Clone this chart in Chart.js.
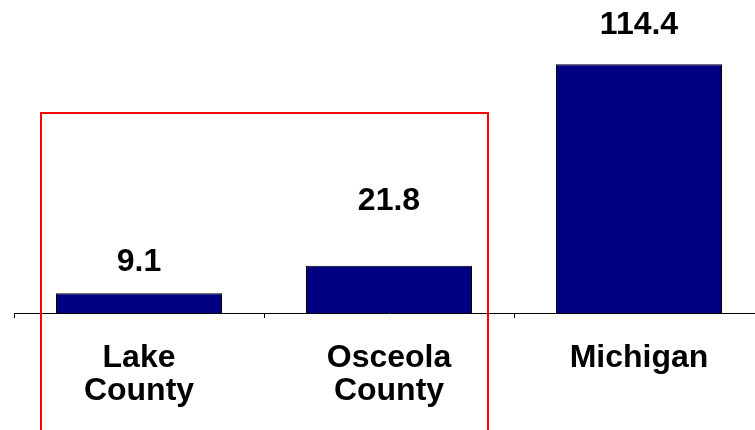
<!DOCTYPE html>
<html>
<head>
<meta charset="utf-8">
<script src="https://cdn.jsdelivr.net/npm/chart.js@4/dist/chart.umd.min.js"></script>
<style>
    html, body { margin: 0; padding: 0; background: #fff; overflow: hidden; }
    #wrap { width: 755px; height: 430px; overflow: hidden; position: relative; }
    #chart { position: absolute; left: 0; top: 0; }
</style>
</head>
<body>
<div id="wrap"><canvas id="chart" width="775" height="433"></canvas></div>
<script>
// ==================== DỮ LIỆU ====================
const categories = [['Lake', 'County'], ['Osceola', 'County'], ['Michigan']];
const values = [9.1, 21.8, 114.4];
const valueLabels = ['9.1', '21.8', '114.4'];

// khoảng cách (px) từ đỉnh cột tới tâm nhãn giá trị
const labelGaps = [31, 65, 39];

// ==================== PLUGIN ====================
const valueLabelPlugin = {
    id: 'valueLabels',
    afterDatasetsDraw(chart) {
        const ctx = chart.ctx;
        const meta = chart.getDatasetMeta(0);
        ctx.save();
        ctx.font = 'bold 32px "Liberation Sans", Arial, sans-serif';
        ctx.fillStyle = '#000';
        ctx.textAlign = 'center';
        ctx.textBaseline = 'middle';
        meta.data.forEach((bar, i) => {
            ctx.fillText(valueLabels[i], bar.x, bar.y - labelGaps[i]);
        });
        ctx.restore();
    }
};

const redBoxPlugin = {
    id: 'redBox',
    afterDraw(chart) {
        const ctx = chart.ctx;
        ctx.save();
        ctx.strokeStyle = '#ff0000';
        ctx.lineWidth = 2;
        ctx.strokeRect(41, 113, 447, 400);
        ctx.restore();
    }
};

// ==================== BIỂU ĐỒ ====================
new Chart(document.getElementById('chart'), {
    type: 'bar',
    data: {
        labels: categories,
        datasets: [{
            data: values,
            backgroundColor: '#000080',
            borderColor: '#000',
            borderWidth: 1,
            barPercentage: 0.664,
            categoryPercentage: 1
        }]
    },
    options: {
        responsive: false,
        animation: false,
        devicePixelRatio: 1,
        layout: { padding: { left: 14, right: 11, top: 0, bottom: 1 } },
        plugins: { legend: { display: false }, tooltip: { enabled: false } },
        scales: {
            x: {
                grid: { offset: true, drawOnChartArea: false, tickLength: 5, color: '#000', tickColor: '#000' },
                border: { color: '#000', width: 1 },
                ticks: {
                    color: '#000',
                    padding: 24,
                    maxRotation: 0,
                    font: { family: '"Liberation Sans", Arial, sans-serif', size: 32, weight: 'bold', lineHeight: 1.03 }
                }
            },
            y: {
                display: false,
                min: 0,
                max: 144
            }
        }
    },
    plugins: [valueLabelPlugin, redBoxPlugin]
});
</script>
</body>
</html>
